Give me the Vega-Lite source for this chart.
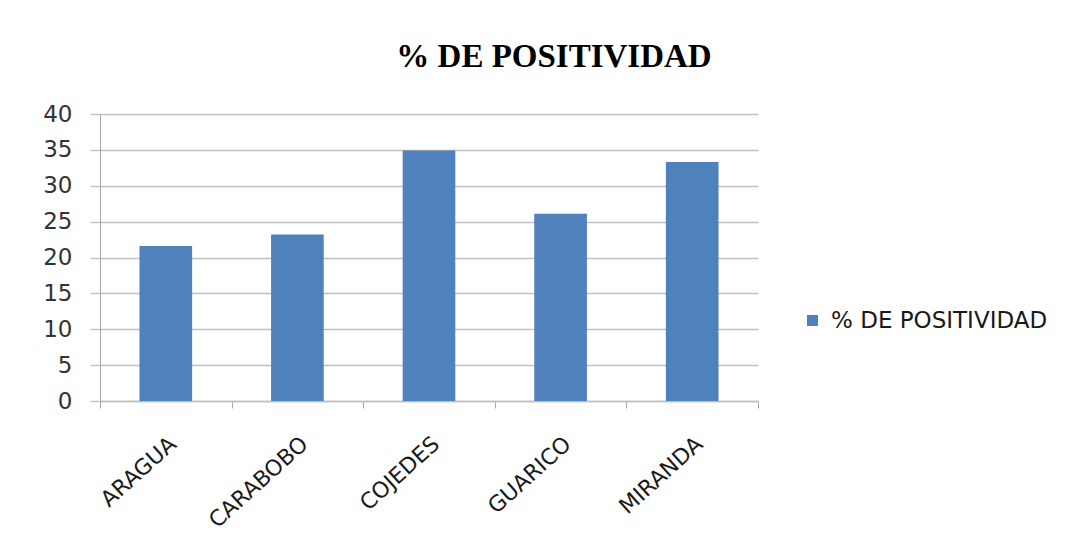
{
  "$schema": "https://vega.github.io/schema/vega-lite/v6.json",
  "autosize": {"type": "none"},
  "width": 658,
  "height": 287,
  "padding": {"left": 100, "top": 114, "right": 329, "bottom": 151},
  "background": "white",
  "title": {
    "text": "% DE POSITIVIDAD",
    "font": "Liberation Serif",
    "fontSize": 33,
    "fontWeight": "bold",
    "color": "#000000",
    "anchor": "middle",
    "frame": "group",
    "baseline": "alphabetic",
    "dx": 125,
    "offset": 3
  },
  "data": {
    "values": [
      {"estado": "ARAGUA", "valor": 21.6, "serie": "% DE POSITIVIDAD"},
      {"estado": "CARABOBO", "valor": 23.2, "serie": "% DE POSITIVIDAD"},
      {"estado": "COJEDES", "valor": 34.9, "serie": "% DE POSITIVIDAD"},
      {"estado": "GUARICO", "valor": 26.1, "serie": "% DE POSITIVIDAD"},
      {"estado": "MIRANDA", "valor": 33.3, "serie": "% DE POSITIVIDAD"}
    ]
  },
  "mark": {"type": "bar", "width": {"band": 0.4}},
  "encoding": {
    "x": {
      "field": "estado",
      "type": "nominal",
      "sort": null,
      "scale": {"paddingInner": 0, "paddingOuter": 0},
      "axis": {
        "title": null,
        "tickBand": "extent",
        "tickSize": 7,
        "tickColor": "#a6a6a6",
        "domainColor": "#bfbfbf",
        "domainWidth": 1.3,
        "labelAngle": -42,
        "labelFont": "DejaVu Sans",
        "labelFontSize": 22,
        "labelColor": "#1a1a1a",
        "labelPadding": 25,
        "labelLimit": 0,
        "grid": false
      }
    },
    "y": {
      "field": "valor",
      "type": "quantitative",
      "scale": {"domain": [0, 40], "nice": false},
      "axis": {
        "title": null,
        "values": [0, 5, 10, 15, 20, 25, 30, 35, 40],
        "grid": true,
        "gridColor": "#c0c0c0",
        "gridWidth": 1.4,
        "domainColor": "#a6a6a6",
        "tickSize": 10,
        "tickColor": "#c0c0c0",
        "tickWidth": 1.4,
        "labelFont": "DejaVu Sans",
        "labelFontSize": 23,
        "labelColor": "#333333",
        "labelPadding": 18
      }
    },
    "color": {
      "field": "serie",
      "type": "nominal",
      "scale": {"range": ["#4F81BD"]},
      "legend": {
        "title": null,
        "orient": "none",
        "legendX": 701,
        "legendY": 195,
        "symbolType": "square",
        "symbolSize": 120,
        "symbolStrokeWidth": 0,
        "labelFont": "DejaVu Sans",
        "labelFontSize": 23,
        "labelColor": "#1a1a1a",
        "labelOffset": 7,
        "labelLimit": 0
      }
    }
  },
  "config": {
    "view": {"stroke": null}
  }
}
